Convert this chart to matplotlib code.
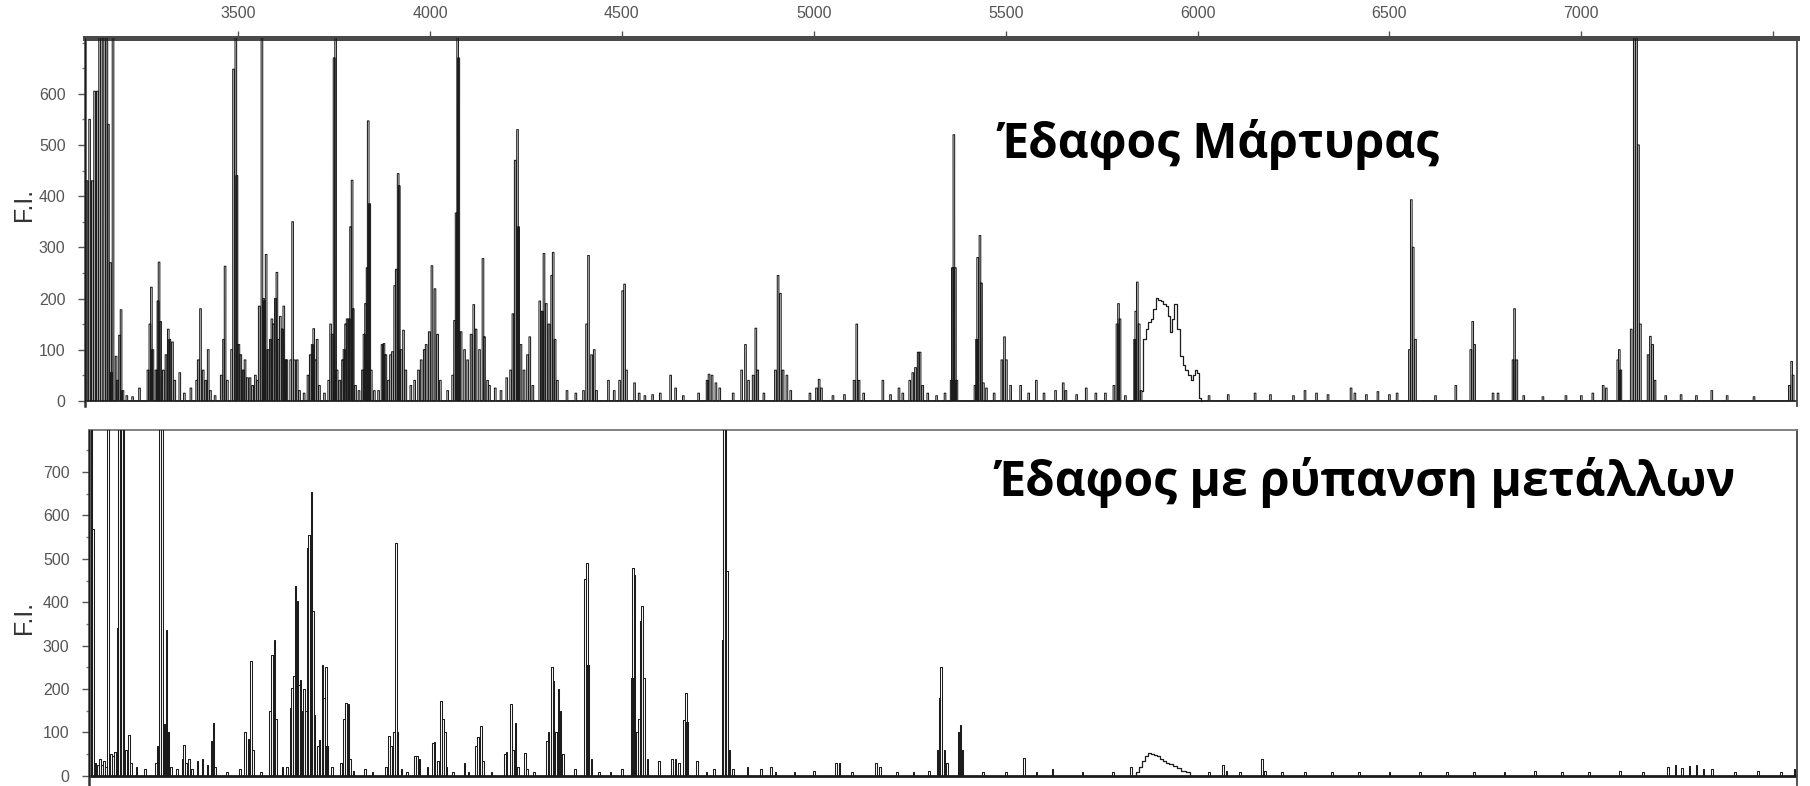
import matplotlib
matplotlib.use('Agg')
import matplotlib.pyplot as plt
from matplotlib.ticker import MultipleLocator

# ---------------- data (m/z, F.I.) ----------------
top_a = [(3100,800),(3106,430),(3113,550),(3120,430),(3126,605),(3133,605),(3139,800),(3144,800),
         (3152,800),(3158,800),(3162,540),(3167,270),(3169,55),(3174,800),(3182,87),(3186,40),
         (3191,128),(3195,178),(3200,20),(3210,10),(3225,8)]
top_b = [(3243,25),(3265,60),(3270,150),(3274,222),(3278,100),(3286,60),(3291,195),(3294,271),
         (3298,155),(3305,60),(3312,90),(3318,140),(3322,120),(3329,115),(3335,40),(3348,55),
         (3360,15),(3377,25),(3392,40),(3396,80),(3402,180),(3409,60),(3416,40),(3422,100),
         (3428,20),(3440,10)]
top_c = [(3456,50),(3462,120),(3466,263),(3472,40),(3483,100),(3488,648),(3494,800),(3497,440),
         (3502,110),(3507,90),(3513,60),(3518,80),(3524,45),(3531,45),(3538,30),(3545,50),
         (3550,40),(3555,185),(3562,800),(3566,200),(3569,195),(3573,286),(3578,100),(3584,120),
         (3588,160),(3592,150),(3597,200),(3601,251),(3605,120),(3610,165),(3615,140),(3619,185),
         (3623,80),(3627,80),(3637,80),(3642,350),(3647,80),(3654,80),(3660,20)]
top_d = [(3672,15),(3682,50),(3688,90),(3693,110),(3697,141),(3702,80),(3706,120),(3712,30),
         (3725,15),(3736,40),(3741,150),(3745,130),(3750,670),(3754,800),(3758,60),(3765,40),
         (3772,80),(3776,100),(3780,150),(3784,160),(3789,160),(3793,340),(3797,431),(3800,180),
         (3806,30),(3815,20),(3824,60),(3828,130),(3832,190),(3836,260),(3839,547),(3843,385),
         (3847,60),(3855,20)]
top_e = [(3866,20),(3875,110),(3880,112),(3885,90),(3892,40),(3897,90),(3902,96),(3908,225),
         (3912,257),(3917,444),(3920,420),(3925,100),(3931,138),(3937,60),(3950,30),(3960,40),
         (3970,60),(3977,80),(3985,100),(3990,110),(3998,135),(4005,264),(4013,219),(4020,130),
         (4027,40)]
top_f = [(4046,20),(4059,50),(4064,157),(4068,367),(4072,800),(4075,670),(4081,135),(4090,100),
         (4098,80),(4107,130),(4114,188),(4120,140),(4129,100),(4138,278),(4142,125),(4150,40),
         (4155,30),(4170,25)]
top_g = [(4185,20),(4200,45),(4210,60),(4216,170),(4222,470),(4228,530),(4231,340),(4237,110),
         (4245,60),(4254,90),(4260,125),(4268,30),(4286,195),(4292,175),(4297,288),(4303,190),
         (4310,150),(4317,245),(4321,290),(4326,120),(4332,40)]
top_h = [(4357,20),(4380,15),(4400,20),(4408,150),(4413,284),(4421,90),(4428,100),(4434,20),
         (4465,40),(4480,20),(4494,40),(4502,215),(4507,228),(4512,60),(4533,35),(4545,15),
         (4560,10)]
top_i = [(4580,12),(4600,15),(4627,50),(4640,25),(4660,10),(4700,15),(4722,40),(4727,52),
         (4735,50),(4745,35),(4755,25),(4790,15),(4812,60),(4822,110),(4830,40),(4842,50),
         (4849,142),(4854,60),(4870,15),(4900,60),(4907,245),(4913,210),(4920,60),(4930,50),
         (4940,20),(4990,15),(5007,25),(5014,42),(5020,25),(5050,10),(5080,12),(5105,40),
         (5112,150),(5118,40),(5130,15),(5180,40),(5200,12),(5222,25),(5232,15),(5250,40),
         (5258,55),(5265,65),(5272,95),(5277,95),(5284,30),(5297,15),(5320,10),(5342,15)]
top_j = [(5358,40),(5361,260),(5365,520),(5369,260),(5373,40),(5420,30),(5424,120),(5427,280),
         (5433,323),(5437,230),(5442,35),(5450,25),(5470,15),(5490,80),(5497,125),(5502,80),
         (5513,30),(5539,30),(5560,15),(5580,40),(5600,15),(5630,20),(5650,35),(5657,20),
         (5685,12),(5710,25),(5735,15),(5760,15),(5782,30),(5790,150),(5794,190),(5798,160),
         (5812,10),(5836,120),(5839,175),(5843,232),(5848,150),(5853,20)]
top_k = [(6030,10),(6080,12),(6150,15),(6190,12),(6250,10),(6280,20),(6310,15),(6340,12),
         (6400,25),(6410,15),(6440,12),(6470,18),(6500,12),(6520,15),(6552,100),(6557,393),
         (6562,300),(6568,120),(6620,10),(6673,30),(6712,100),(6717,155),(6722,110),(6770,15),
         (6783,15),(6822,80),(6826,180),(6832,80),(6850,10),(6900,8),(6960,10),(7000,10),
         (7030,15),(7057,30),(7065,25),(7095,80),(7099,100),(7103,60),(7130,140),(7138,800),
         (7144,800),(7149,500),(7154,150),(7174,90),(7180,126),(7186,110),(7192,40),(7220,10),
         (7260,12),(7300,10),(7340,20),(7380,10),(7450,8),(7542,30),(7548,77),(7552,50)]
top_hump_mz = [5856, 5862, 5869, 5875, 5882, 5888, 5894, 5900, 5907, 5914, 5920, 5926, 5929,
               5936, 5943, 5950, 5959, 5965, 5972, 5979, 5985, 5991, 5997, 6002, 6006, 6010]
top_hump_fi = [20, 120, 140, 155, 160, 180, 201, 198, 195, 190, 185, 165, 135,
               160, 190, 140, 87, 70, 60, 50, 40, 50, 61, 55, 5, 0]

bot_a = [(3110,900),(3114,900),(3118,900),(3122,568),(3128,30),(3135,25),(3140,40),(3145,25),
         (3150,35),(3155,20),(3161,900),(3168,50),(3173,45),(3178,55),(3185,340),(3189,900),
         (3193,900),(3197,900),(3201,900),(3207,60),(3215,95),(3220,30),(3235,20),(3257,15)]
bot_b = [(3285,30),(3290,68),(3296,900),(3302,900),(3308,120),(3313,337),(3318,100),(3325,20),
         (3340,15),(3355,40),(3359,72),(3364,30),(3372,40),(3380,15),(3394,35),(3407,40),
         (3420,25),(3430,80),(3435,122),(3440,20),(3470,10)]
bot_c = [(3505,15),(3518,102),(3527,85),(3533,264),(3538,60),(3560,10),(3583,150),(3588,279),
         (3594,314),(3599,130),(3615,20),(3627,20),(3636,156),(3640,202),(3645,230),(3649,437),
         (3654,402),(3658,210),(3662,220),(3667,150),(3671,200),(3676,150),(3680,526),(3684,556),
         (3691,654),(3695,379),(3699,140),(3708,70),(3712,83),(3719,256),(3724,180),(3728,252),
         (3732,70),(3745,20),(3767,30),(3776,130),(3780,168),(3787,165),(3791,40),(3800,12),
         (3830,15),(3850,10)]
bot_d = [(3885,20),(3893,91),(3898,70),(3906,100),(3911,537),(3915,100),(3925,15),(3940,10),
         (3960,46),(3966,46),(3972,40),(3993,20),(4007,75),(4011,77),(4020,35),(4029,172),
         (4033,130),(4038,100),(4043,20),(4060,10),(4090,29),(4100,10),(4120,70),(4125,90),
         (4133,114),(4138,35),(4160,10),(4195,50),(4199,56),(4210,166),(4216,60),(4222,122),
         (4229,20),(4247,52),(4252,15)]
bot_e = [(4270,10),(4304,80),(4308,100),(4317,252),(4321,218),(4328,100),(4334,200),(4340,150),
         (4347,50),(4378,15),(4404,453),(4408,491),(4412,256),(4421,40),(4440,10),(4470,10),
         (4500,15),(4526,225),(4529,480),(4533,464),(4539,100),(4544,130),(4548,356),(4552,391),
         (4557,225),(4566,40),(4596,35),(4630,40),(4639,40),(4648,30),(4661,129),(4666,192),
         (4670,125),(4696,35),(4720,10),(4740,15),(4762,314),(4766,900),(4770,900),(4774,472),
         (4780,60),(4790,15),(4827,20),(4862,15),(4888,20)]
bot_f = [(4900,10),(4950,10),(5000,12),(5057,30),(5067,30),(5100,10),(5162,30),(5172,20),
         (5217,10),(5260,10),(5300,12),(5322,60),(5327,179),(5332,252),(5340,60),(5347,30),
         (5377,100),(5382,118),(5387,60),(5440,10),(5500,10),(5547,41),(5580,10),(5622,15),
         (5700,10),(5780,10),(5827,20)]
bot_g = [(6030,10),(6066,25),(6075,12),(6110,10),(6168,38),(6175,12),(6220,8),(6280,10),
         (6350,8),(6420,10),(6500,8),(6580,10),(6650,8),(6720,10),(6800,10),(6880,12),
         (6950,10),(7020,10),(7100,12),(7160,10),(7226,20),(7245,25),(7262,18),(7282,22),
         (7300,25),(7318,15),(7340,15),(7400,10),(7460,12),(7520,10),(7555,15)]
bot_hump_mz = [5838, 5842, 5850, 5858, 5866, 5874, 5882, 5890, 5898, 5906, 5914, 5922,
               5930, 5940, 5950, 5962, 5975, 5985]
bot_hump_fi = [0, 10, 20, 35, 45, 52, 50, 47, 45, 40, 35, 30, 28, 22, 18, 12, 8, 0]

x_ticks = [3500, 4000, 4500, 5000, 5500, 6000, 6500, 7000, 7500]
x_tick_labels = ['3500', '4000', '4500', '5000', '5500', '6000', '6500', '7000', '']
top_y_ticks = [0, 100, 200, 300, 400, 500, 600]
bot_y_ticks = [0, 100, 200, 300, 400, 500, 600, 700]
top_title = 'Έδαφος Μάρτυρας'
bot_title = 'Έδαφος με ρύπανση μετάλλων'
y_label = 'F.I.'

# ---------------- drawing ----------------
W, H = 1810, 786
fig = plt.figure(figsize=(W / 100, H / 100), dpi=100)
fig.patch.set_facecolor('white')

tick_font = ['Liberation Sans Narrow', 'Liberation Sans', 'DejaVu Sans']
LINE = '#1c1c1c'
HW = 2.1


def draw_spectrum(ax, groups, hump_x, hump_y, base_lw):
    peaks = sorted(p for g in groups for p in g)
    xs, ys = [], []
    for c, h in peaks:
        xs += [c - HW, c - HW, c + HW, c + HW]
        ys += [0, h, h, 0]
    ax.axhline(0, color=LINE, lw=base_lw, zorder=2)
    ax.plot(xs, ys, color=LINE, lw=0.75, zorder=3)
    ax.plot(hump_x, hump_y, color=LINE, lw=0.9, drawstyle='steps-mid', zorder=3)


def style_axis(ax, yticks):
    ax.set_yticks(yticks)
    ax.yaxis.set_minor_locator(MultipleLocator(50))
    ax.tick_params(axis='y', which='major', direction='out', length=5, width=1,
                   color='#555555', pad=9, labelsize=11.5, labelcolor='#555555')
    ax.tick_params(axis='y', which='minor', direction='out', length=2, width=1,
                   color='#777777')
    for lab in ax.get_yticklabels():
        lab.set_family(tick_font)
    ax.spines['bottom'].set_visible(False)
    ax.spines['left'].set_linewidth(1.8)
    ax.spines['left'].set_color('#333333')
    ax.spines['right'].set_linewidth(1.3)
    ax.spines['right'].set_color('#444444')


# top panel
ax1 = fig.add_axes([85 / W, 1 - 406 / H, 1712 / W, 368 / H])
ax1.set_xlim(3101, 7562)
ax1.set_ylim(-10, 709)
draw_spectrum(ax1, [top_a, top_b, top_c, top_d, top_e, top_f, top_g, top_h, top_i, top_j, top_k],
              top_hump_mz, top_hump_fi, 1.2)
style_axis(ax1, top_y_ticks)
ax1.xaxis.tick_top()
ax1.set_xticks(x_ticks)
ax1.set_xticklabels(x_tick_labels)
ax1.tick_params(axis='x', direction='out', length=5, width=1, color='#555555', pad=7,
                labelsize=11.5, labelcolor='#555555')
for lab in ax1.get_xticklabels():
    lab.set_family(tick_font)
ax1.spines['top'].set_linewidth(3.6)
ax1.spines['top'].set_color('#4a4a4a')

# bottom panel
ax2 = fig.add_axes([89 / W, 1 / H, 1708 / W, 355 / H])
ax2.set_xlim(3111, 7562)
ax2.set_ylim(-21, 797)
draw_spectrum(ax2, [bot_a, bot_b, bot_c, bot_d, bot_e, bot_f, bot_g], bot_hump_mz, bot_hump_fi, 2.0)
style_axis(ax2, bot_y_ticks)
ax2.set_xticks([])
ax2.spines['top'].set_linewidth(1.3)
ax2.spines['top'].set_color('#777777')

title_font = ['Open Sans', 'DejaVu Sans']
fig.text(998 / W, 1 - 145 / H, top_title, fontsize=34.5, fontweight='bold', family=title_font,
         ha='left', va='center', color='black')
fig.text(995 / W, 1 - 483 / H, bot_title, fontsize=34.5, fontweight='bold', family=title_font,
         ha='left', va='center', color='black')

for yc in (204, 617):
    fig.text(24 / W, 1 - yc / H, y_label, rotation=90, fontsize=18, color='#333333',
             family=['Liberation Sans', 'DejaVu Sans'], ha='center', va='center')

fig.savefig('out.png', dpi=100, facecolor='white')
